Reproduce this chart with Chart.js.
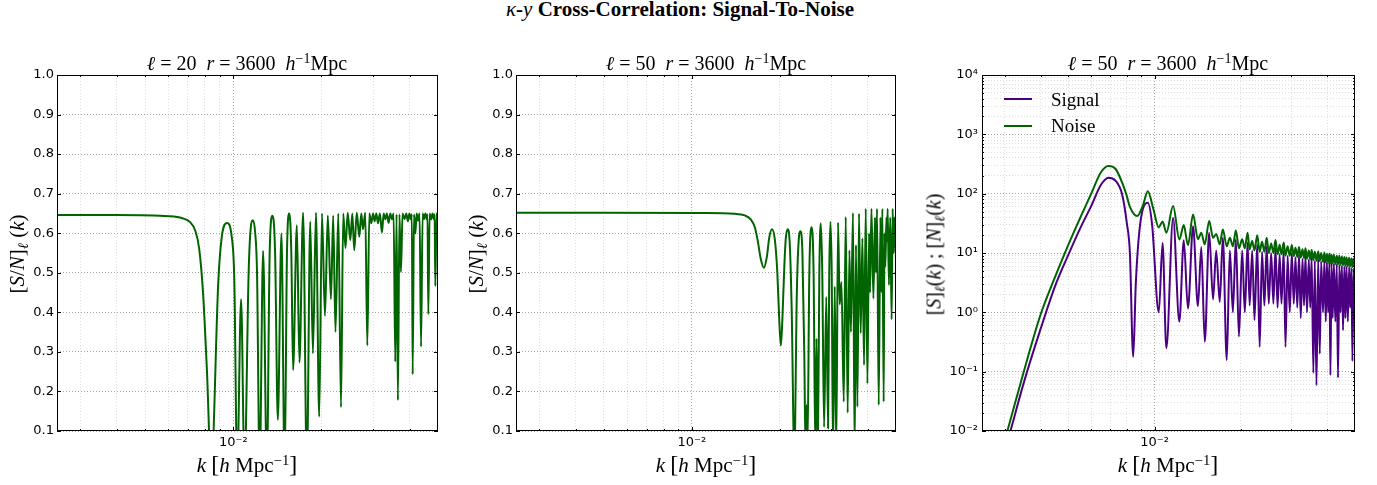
<!DOCTYPE html>
<html>
<head>
<meta charset="utf-8">
<title>kappa-y cross-correlation: signal-to-noise</title>
<script src="https://cdn.jsdelivr.net/npm/chart.js@4.4.1/dist/chart.umd.min.js"></script>
<style>
  html, body { margin: 0; padding: 0; background: #fff; }
  #page { position: relative; width: 1377px; height: 485px; overflow: hidden; }
  canvas { position: absolute; }
  .tx { position: absolute; font-family: "Liberation Serif", "DejaVu Serif", serif; color: #000;
        white-space: nowrap; text-align: center; line-height: 20px; font-size: 20px; z-index: 2; }
  .tx i { font-style: italic; }
  .sp { font-size: 70%; position: relative; top: -0.5em; }
  .sb { font-size: 70%; position: relative; top: 0.3em; }
  .br { font-size: 24px; }
  .yl { width: 200px; transform: rotate(-90deg); }
  .leg { position: absolute; height: 2px; width: 28px; z-index: 2; }
</style>
</head>
<body>
<div id="page">
  <div class="tx" style="left:480px;width:400px;top:-1px;font-size:21px;font-weight:bold">
    <span style="font-weight:normal;font-style:italic">κ</span>-<span style="font-weight:normal;font-style:italic">y</span> Cross-Correlation: Signal-To-Noise</div>

  <canvas id="p1"></canvas>
  <canvas id="p2"></canvas>
  <canvas id="p3"></canvas>

  <!-- panel titles -->
  <div class="tx" style="left:47px;width:400px;top:53px"><i>ℓ</i> = 20 &nbsp;<i>r</i> = 3600 &nbsp;<i>h</i><span class="sp">−1</span>Mpc</div>
  <div class="tx" style="left:506px;width:400px;top:53px"><i>ℓ</i> = 50 &nbsp;<i>r</i> = 3600 &nbsp;<i>h</i><span class="sp">−1</span>Mpc</div>
  <div class="tx" style="left:968px;width:400px;top:53px"><i>ℓ</i> = 50 &nbsp;<i>r</i> = 3600 &nbsp;<i>h</i><span class="sp">−1</span>Mpc</div>

  <!-- x axis titles -->
  <div class="tx" style="left:47px;width:400px;top:454px;font-size:21px"><i>k</i> <span class="br">[</span><i>h</i> Mpc<span class="sp">−1</span><span class="br">]</span></div>
  <div class="tx" style="left:506px;width:400px;top:454px;font-size:21px"><i>k</i> <span class="br">[</span><i>h</i> Mpc<span class="sp">−1</span><span class="br">]</span></div>
  <div class="tx" style="left:968px;width:400px;top:454px;font-size:21px"><i>k</i> <span class="br">[</span><i>h</i> Mpc<span class="sp">−1</span><span class="br">]</span></div>

  <!-- y axis titles -->
  <div class="tx yl" style="left:-82px;top:243px;font-size:21px">[<i>S</i>/<i>N</i>]<span class="sb"><i>ℓ</i></span> (<i>k</i>)</div>
  <div class="tx yl" style="left:377px;top:243px;font-size:21px">[<i>S</i>/<i>N</i>]<span class="sb"><i>ℓ</i></span> (<i>k</i>)</div>
  <div class="tx yl" style="left:835px;top:243px">[<i>S</i>]<span class="sb"><i>ℓ</i></span>(<i>k</i>) ; [<i>N</i>]<span class="sb"><i>ℓ</i></span>(<i>k</i>)</div>

  <!-- legend, panel 3 -->
  <div class="leg" style="left:1004px;top:98px;background:#4b0082"></div>
  <div class="tx" style="left:1051px;top:90px;font-size:19px;text-align:left">Signal</div>
  <div class="leg" style="left:1004px;top:125px;background:#006400"></div>
  <div class="tx" style="left:1051px;top:116px;font-size:19px;text-align:left">Noise</div>
</div>

<script>
// ---------------------------------------------------
// data
// ---------------------------------------------------

// panel 1: l = 20, [S/N]_l(k)
var kP1 = [0.0025, 0.0040, 0.00605, 0.00670, 0.00712, 0.00741, 0.00765, 0.00788, 0.00813, 0.00840,
  0.00889, 0.00913, 0.00951, 0.00988, 0.01008, 0.01031, 0.01063, 0.01092, 0.01128, 0.01143,
  0.01166, 0.01188, 0.01205, 0.01230, 0.01264, 0.01302, 0.01331, 0.01360, 0.01389, 0.01419,
  0.01460, 0.01497, 0.01525, 0.01552, 0.01578, 0.01600, 0.01648, 0.01682, 0.01731, 0.01783,
  0.01831, 0.01870, 0.01915, 0.01965, 0.02008, 0.02056, 0.02102, 0.02155, 0.02193, 0.02233,
  0.02283, 0.02332, 0.02373, 0.02416, 0.02459, 0.02509, 0.02549, 0.02588, 0.02640, 0.02693,
  0.02736, 0.02772, 0.02822, 0.02868, 0.02914, 0.02959, 0.03000, 0.03037, 0.03078, 0.03120,
  0.03166, 0.03218, 0.03262, 0.03304, 0.03345, 0.03390, 0.03436, 0.03482, 0.03527, 0.03573,
  0.03609, 0.03648, 0.03692, 0.03736, 0.03784, 0.03845, 0.03897, 0.03945, 0.03992, 0.04039,
  0.04071, 0.04097, 0.04140, 0.04184, 0.04227, 0.04274, 0.04325, 0.04376, 0.04431, 0.04477,
  0.04526, 0.04575, 0.04604, 0.04633, 0.04681, 0.04737, 0.04789, 0.04842, 0.04869, 0.04896,
  0.04942, 0.05000];
var snP1 = [0.646, 0.646, 0.643, 0.638, 0.628, 0.607, 0.56, 0.45, 0.25, 0.0,
  0.48, 0.59, 0.626, 0.59, 0.48, 0.0, 0.433, 0.0, 0.5, 0.6,
  0.633, 0.6, 0.5, 0.0, 0.555, 0.0, 0.55, 0.644, 0.55, 0.128,
  0.599, 0.0, 0.55, 0.650, 0.55, 0.254, 0.620, 0.273, 0.652, 0.0,
  0.629, 0.296, 0.652, 0.136, 0.65, 0.391, 0.645, 0.433, 0.645, 0.35,
  0.65, 0.16, 0.65, 0.563, 0.652, 0.582, 0.65, 0.557, 0.652, 0.591,
  0.65, 0.61, 0.652, 0.316, 0.65, 0.625, 0.65, 0.63, 0.65, 0.625,
  0.65, 0.602, 0.65, 0.635, 0.65, 0.626, 0.65, 0.635, 0.65, 0.275,
  0.648, 0.178, 0.648, 0.502, 0.65, 0.636, 0.65, 0.63, 0.65, 0.635,
  0.648, 0.243, 0.648, 0.599, 0.65, 0.632, 0.65, 0.313, 0.65, 0.636,
  0.65, 0.635, 0.648, 0.395, 0.65, 0.635, 0.65, 0.635, 0.648, 0.466,
  0.65, 0.646];

// panel 2: l = 50, [S/N]_l(k)
var kP2 = [0.0025, 0.00484, 0.01066, 0.01403, 0.01518, 0.01591, 0.01643, 0.01682, 0.01722, 0.01764,
  0.01806, 0.01842, 0.01881, 0.01923, 0.01962, 0.01992, 0.02017, 0.02041, 0.02074, 0.02099,
  0.02132, 0.02165, 0.02198, 0.02243, 0.02288, 0.02321, 0.02355, 0.02391, 0.02426, 0.02451,
  0.02469, 0.02487, 0.02525, 0.02568, 0.02611, 0.02647, 0.02672, 0.02700, 0.02732, 0.02764,
  0.02796, 0.02836, 0.02886, 0.02927, 0.02954, 0.02982, 0.03012, 0.03044, 0.03085, 0.03122,
  0.03166, 0.03208, 0.03252, 0.03312, 0.03364, 0.03416, 0.03463, 0.03504, 0.03562, 0.03609,
  0.03647, 0.03688, 0.03735, 0.03785, 0.03837, 0.03886, 0.03939, 0.03991, 0.04042, 0.04074,
  0.04120, 0.04184, 0.04237, 0.04268, 0.04305, 0.04363, 0.04421, 0.04453, 0.04491, 0.04537,
  0.04565, 0.04597, 0.04637, 0.04659, 0.04681, 0.04730, 0.04778, 0.04831, 0.04869, 0.04908,
  0.04946, 0.05000];
var snP2 = [0.652, 0.652, 0.651, 0.649, 0.645, 0.635, 0.615, 0.58, 0.535, 0.513,
  0.54, 0.59, 0.610, 0.585, 0.5, 0.38, 0.316, 0.38, 0.52, 0.59,
  0.610, 0.57, 0.4, 0.03, 0.45, 0.58, 0.605, 0.55, 0.3, 0.05,
  0.166, 0.05, 0.5, 0.615, 0.5, 0.05, 0.334, 0.05, 0.5, 0.625,
  0.5, 0.11, 0.439, 0.107, 0.5, 0.629, 0.5, 0.05, 0.465, 0.05,
  0.627, 0.42, 0.477, 0.174, 0.641, 0.146, 0.557, 0.35, 0.651, 0.05,
  0.57, 0.161, 0.65, 0.347, 0.587, 0.267, 0.662, 0.22, 0.6, 0.45,
  0.662, 0.435, 0.64, 0.5, 0.662, 0.166, 0.64, 0.45, 0.662, 0.174,
  0.6, 0.515, 0.64, 0.58, 0.662, 0.469, 0.64, 0.382, 0.662, 0.55,
  0.64, 0.532];

// panel 3: l = 50, signal S_l(k)
var kSignal = [0.0028, 0.0030, 0.0032, 0.0035, 0.0040, 0.0045, 0.0050, 0.0055, 0.0060, 0.0065,
  0.0069, 0.0073, 0.0077, 0.0080, 0.0082, 0.00842, 0.0086, 0.0089, 0.00947, 0.0098,
  0.01034, 0.01066, 0.01099, 0.0116, 0.0122, 0.01264, 0.01307, 0.01362, 0.01416, 0.01455,
  0.01496, 0.0155, 0.01599, 0.0164, 0.01687, 0.0173, 0.01785, 0.0183, 0.01875, 0.0192,
  0.01969, 0.0202, 0.02064, 0.0211, 0.02145, 0.0219, 0.0223, 0.0228, 0.02325, 0.0237,
  0.02415, 0.0246, 0.02502, 0.0255, 0.02596, 0.0264, 0.02685, 0.0273, 0.0277, 0.0282,
  0.02861, 0.0291, 0.02961, 0.0301, 0.03058, 0.031, 0.03145, 0.0319, 0.03234, 0.0328,
  0.0332, 0.0336, 0.034, 0.0345, 0.0349, 0.0353, 0.03579, 0.0362, 0.03669, 0.0372,
  0.03768, 0.0381, 0.03868, 0.0391, 0.03955, 0.0399, 0.0403, 0.0407, 0.04105, 0.0414,
  0.0418, 0.0422, 0.0427, 0.0432, 0.04362, 0.0441, 0.0445, 0.045, 0.04542, 0.0459,
  0.0463, 0.0467, 0.0472, 0.0477, 0.0481, 0.0486, 0.04898, 0.0494, 0.0499, 0.05];
var signalP3 = [0.001, 0.0043, 0.0138, 0.066, 0.52, 2.8, 9.3, 26, 61, 141,
  186, 166, 98, 32, 10, 0.178, 3.1, 30, 70, 30,
  1.0, 14.8, 0.25, 39, 0.70, 16.4, 1.16, 28.3, 1.27, 12.6,
  0.32, 22, 1.65, 11, 1.5, 18, 0.157, 11, 1.0, 17,
  0.39, 11, 1.0, 15, 1.3, 11, 0.74, 14, 0.26, 10.5,
  1.3, 13, 1.4, 10, 1.4, 12, 1.2, 9.5, 1.4, 11,
  0.26, 9, 1.0, 10, 1.4, 8.5, 1.2, 9.5, 0.8, 8,
  1.3, 9, 1.0, 7.8, 1.2, 8.5, 0.095, 7.5, 0.059, 8,
  0.2, 7.2, 1.0, 7.5, 0.7, 7, 1.0, 7, 0.087, 6.8,
  0.8, 6.6, 0.7, 6.5, 0.079, 6.3, 1.0, 6.1, 0.5, 6,
  0.8, 5.9, 0.7, 5.8, 1.2, 5.6, 0.15, 5.5, 1.0, 1.5];

// panel 3: noise N_l(k); above k = 0.014 it is sampled at the signal's k values
var kNoiseLow = [0.0028, 0.0030, 0.0032, 0.0035, 0.0040, 0.0045, 0.0050, 0.0055, 0.0060, 0.0065,
  0.0069, 0.0073, 0.0077, 0.0080, 0.0082, 0.0087, 0.0091, 0.00947, 0.0099, 0.01034,
  0.01066, 0.01099, 0.0116, 0.0122, 0.01264, 0.01307, 0.01362];
var kNoise = kNoiseLow.concat(kSignal.slice(28));
var noiseP3 = [0.0019, 0.0068, 0.0214, 0.102, 0.91, 4.0, 13.7, 39, 98, 229,
  293, 263, 155, 91, 60, 42, 63, 110, 55, 27,
  34, 22, 62, 16.9, 29.5, 13.6, 44.6,
  17, 22, 14, 34.7, 18, 21, 14, 25, 13, 18,
  13, 24, 12, 17, 12, 22, 11.5, 16, 11, 20,
  10.5, 15.5, 10.5, 18, 10, 14.5, 10, 16.5, 9.5, 13.8,
  9.5, 15, 9, 13, 9, 13.6, 8.8, 12.3, 8.6, 12.6,
  8.4, 11.6, 8.2, 12, 8, 11, 7.8, 11.2, 7.6, 10.5,
  7.4, 10.6, 7.3, 10, 7.1, 10.2, 7, 9.6, 6.9, 9.7,
  6.8, 9.3, 6.7, 9.3, 6.5, 9, 6.4, 9, 6.3, 8.7,
  6.2, 8.6, 6.1, 8.4, 6, 8.3, 5.9, 8.1, 5.8, 8,
  5.8, 7.0];

// axes
var K_MIN = 0.0025, K_MAX = 0.05;
var xTickValues = [0.003, 0.004, 0.005, 0.006, 0.007, 0.008, 0.009, 0.01, 0.02, 0.03, 0.04];
var xTickLabels = { '0.01': '10⁻²' };
var yTicksLin = [0.1, 0.2, 0.3, 0.4, 0.5, 0.6, 0.7, 0.8, 0.9, 1.0];
var yDecades = [0.01, 0.1, 1, 10, 100, 1000, 10000];
var yDecadeLabels = ['10⁻²', '10⁻¹', '10⁰', '10¹', '10²', '10³', '10⁴'];
var yMantissas = [1, 2, 3, 4, 5, 6, 7, 8, 9];

// ---------------------------------------------------
// styling
// ---------------------------------------------------
var GREEN = '#006400';
var PURPLE = '#4b0082';
var GRID_MAJOR = '#a8a8a8';
var GRID_MINOR = '#dedede';
var TICK_FONT = { family: 'DejaVu Sans', size: 13 };
var PAD_TOP = 15, PAD_RIGHT = 12, X_AXIS_H = 30;

function isDecade(v) {
  var l = Math.log10(v);
  return Math.abs(l - Math.round(l)) < 1e-6;
}

function points(ks, vs) {
  return ks.map(function(k, i) { return { x: k, y: vs[i] }; });
}

// log y ticks: every mantissa of every decade up to 10^4
var yTicksLog = [];
yDecades.forEach(function(d, i) {
  if (i === yDecades.length - 1) { yTicksLog.push(d); return; }
  yMantissas.forEach(function(m) { yTicksLog.push(+(m * d).toPrecision(3)); });
});

// frame + inward tick marks on all four sides (matplotlib classic look)
var frameTicks = {
  id: 'frameTicks',
  afterDatasetsDraw: function(chart) {
    var ctx = chart.ctx, a = chart.chartArea, sx = chart.scales.x, sy = chart.scales.y;
    var logY = sy.type === 'logarithmic';
    ctx.save();
    ctx.strokeStyle = '#000';
    ctx.lineWidth = 1;
    ctx.beginPath();
    sx.ticks.forEach(function(t) {
      var x = Math.round(sx.getPixelForValue(t.value)) + 0.5;
      var len = isDecade(t.value) ? 4 : 2;
      ctx.moveTo(x, a.bottom); ctx.lineTo(x, a.bottom - len);
      ctx.moveTo(x, a.top); ctx.lineTo(x, a.top + len);
    });
    sy.ticks.forEach(function(t) {
      var y = Math.round(sy.getPixelForValue(t.value)) + 0.5;
      var len = (logY && !isDecade(t.value)) ? 2 : 4;
      ctx.moveTo(a.left, y); ctx.lineTo(a.left + len, y);
      ctx.moveTo(a.right, y); ctx.lineTo(a.right - len, y);
    });
    ctx.stroke();
    ctx.strokeRect(a.left + 0.5, a.top + 0.5, a.right - a.left - 1, a.bottom - a.top - 1);
    ctx.restore();
  }
};

function makePanel(cfg) {
  var cv = document.getElementById(cfg.id);
  var a = cfg.area;
  cv.width = cfg.yAxisW + (a.right - a.left) + PAD_RIGHT;
  cv.height = PAD_TOP + (a.bottom - a.top) + X_AXIS_H;
  cv.style.left = (a.left - cfg.yAxisW) + 'px';
  cv.style.top = (a.top - PAD_TOP) + 'px';

  var yScale;
  if (cfg.logY) {
    yScale = {
      type: 'logarithmic', min: 0.01, max: 10000,
      afterBuildTicks: function(s) { s.ticks = yTicksLog.map(function(v) { return { value: v }; }); },
      afterFit: function(s) { s.width = cfg.yAxisW; },
      grid: { drawTicks: false, color: function(c) { return c.tick && isDecade(c.tick.value) ? GRID_MAJOR : GRID_MINOR; } },
      border: { display: false, dash: [1, 2] },
      ticks: {
        autoSkip: false, padding: 4, color: '#000', font: TICK_FONT,
        callback: function(v) { var i = yDecades.indexOf(v); return i >= 0 ? yDecadeLabels[i] : ''; }
      }
    };
  } else {
    yScale = {
      type: 'linear', min: 0.1, max: 1.0,
      afterBuildTicks: function(s) { s.ticks = yTicksLin.map(function(v) { return { value: v }; }); },
      afterFit: function(s) { s.width = cfg.yAxisW; },
      grid: { drawTicks: false, color: GRID_MAJOR },
      border: { display: false, dash: [1, 2] },
      ticks: {
        autoSkip: false, padding: 3, color: '#000', font: TICK_FONT,
        callback: function(v) { return v.toFixed(1); }
      }
    };
  }

  return new Chart(cv, {
    type: 'line',
    data: { datasets: cfg.datasets },
    options: {
      responsive: false,
      animation: false,
      devicePixelRatio: 1,
      layout: { padding: { top: PAD_TOP, right: PAD_RIGHT, left: 0, bottom: 0 } },
      plugins: { legend: { display: false }, tooltip: { enabled: false } },
      elements: { point: { radius: 0 }, line: { borderWidth: 2, cubicInterpolationMode: 'monotone' } },
      scales: {
        x: {
          type: 'logarithmic', min: K_MIN, max: K_MAX,
          afterBuildTicks: function(s) { s.ticks = xTickValues.map(function(v) { return { value: v }; }); },
          afterFit: function(s) { s.height = X_AXIS_H; },
          grid: { drawTicks: false, color: function(c) { return c.tick && isDecade(c.tick.value) ? GRID_MAJOR : GRID_MINOR; } },
          border: { display: false, dash: [1, 2] },
          ticks: {
            autoSkip: false, maxRotation: 0, minRotation: 0, padding: 4, color: '#000', font: TICK_FONT,
            callback: function(v) { return xTickLabels[String(v)] || ''; }
          }
        },
        y: yScale
      }
    },
    plugins: [frameTicks]
  });
}

makePanel({
  id: 'p1', area: { left: 57, top: 75, right: 438, bottom: 431 }, yAxisW: 57, logY: false,
  datasets: [{ data: points(kP1, snP1), borderColor: GREEN, fill: false }]
});

makePanel({
  id: 'p2', area: { left: 516, top: 75, right: 896, bottom: 431 }, yAxisW: 57, logY: false,
  datasets: [{ data: points(kP2, snP2), borderColor: GREEN, fill: false }]
});

// noise first so it is drawn on top of the signal
makePanel({
  id: 'p3', area: { left: 982, top: 75, right: 1355, bottom: 431 }, yAxisW: 60, logY: true,
  datasets: [
    { label: 'Noise', data: points(kNoise, noiseP3), borderColor: GREEN, fill: false },
    { label: 'Signal', data: points(kSignal, signalP3), borderColor: PURPLE, fill: false }
  ]
});
</script>
</body>
</html>
